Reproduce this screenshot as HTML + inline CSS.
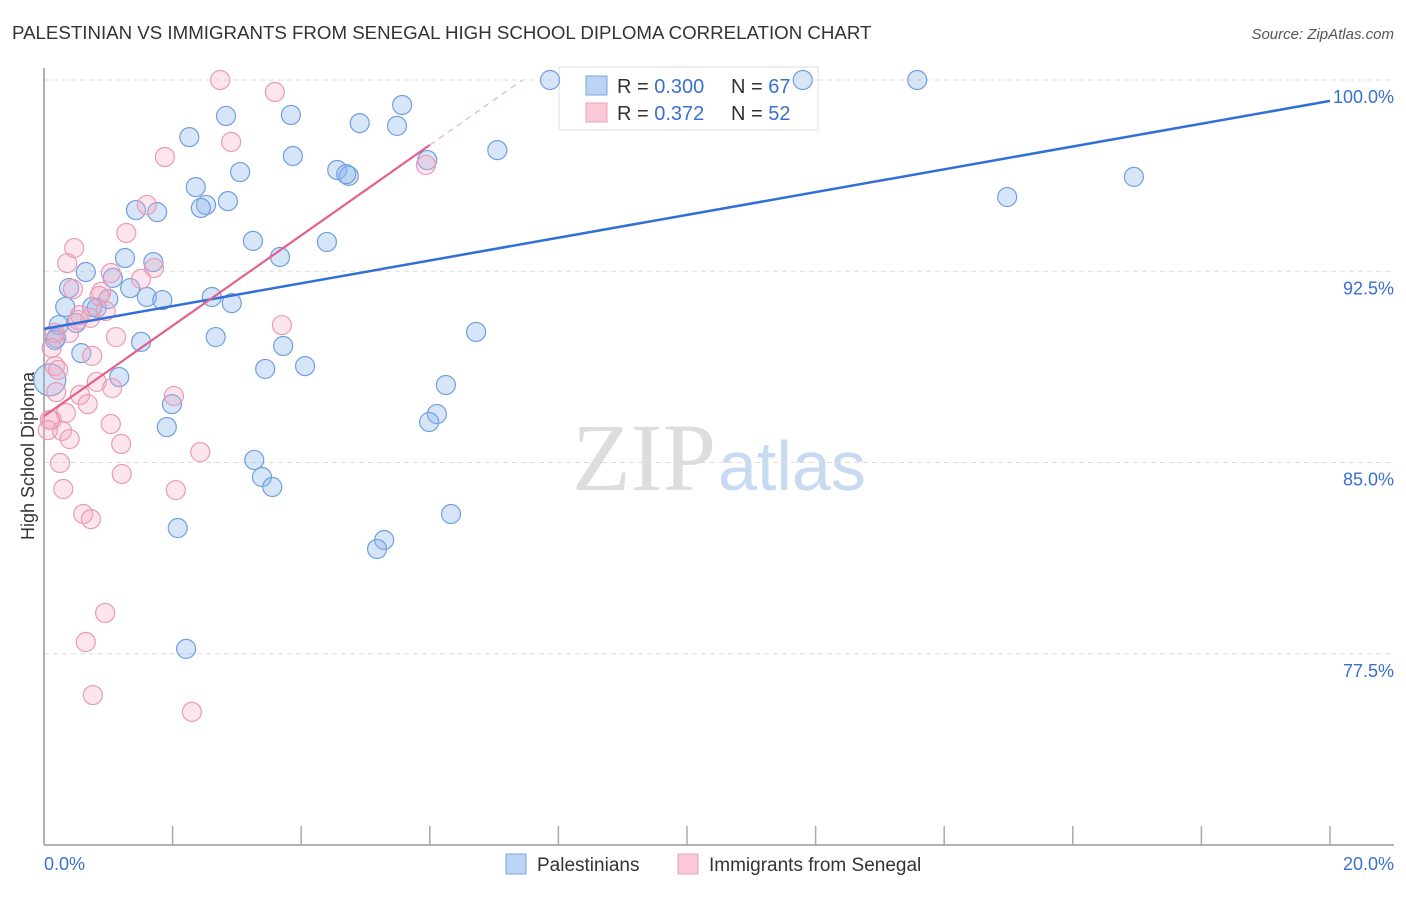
<!DOCTYPE html>
<html><head><meta charset="utf-8"><style>
body{margin:0;background:#fff;font-family:"Liberation Sans",sans-serif;}
svg text{font-family:"Liberation Sans",sans-serif;}
</style></head><body>
<svg id="chart" width="1406" height="892" viewBox="0 0 1406 892">
<text x="12" y="39" font-size="18.7" fill="#333">PALESTINIAN VS IMMIGRANTS FROM SENEGAL HIGH SCHOOL DIPLOMA CORRELATION CHART</text>
<text x="1394" y="39" font-size="15" fill="#555" font-style="italic" text-anchor="end">Source: ZipAtlas.com</text>
<text x="716" y="490" font-size="96" fill="#ddd" text-anchor="end" style="font-family:'Liberation Serif',serif">ZIP</text>
<text x="718" y="490" font-size="70" fill="#c8daf2">atlas</text>
<g id="grid"></g>
<line x1="44" y1="68" x2="44" y2="845" stroke="#999" stroke-width="1.5"/>
<line x1="44" y1="845" x2="1394" y2="845" stroke="#999" stroke-width="1.5"/>
<text transform="translate(34,456) rotate(-90)" font-size="18" fill="#333" text-anchor="middle">High School Diploma</text>
<text x="44" y="870" font-size="18" fill="#3a6fd0">0.0%</text>
<text x="1394" y="870" font-size="18" fill="#3a6fd0" text-anchor="end">20.0%</text>
<g>
<rect x="559" y="67" width="259" height="63" fill="#fff" stroke="#ddd"/>
<rect x="586" y="76" width="21" height="19" fill="#bcd4f4" stroke="#7aa4e0"/>
<rect x="586" y="103" width="21" height="19" fill="#fac8d6" stroke="#eda0b8"/>
<text x="617" y="93" font-size="20" fill="#333">R = <tspan fill="#3a6fd0">0.300</tspan></text>
<text x="731" y="93" font-size="20" fill="#333">N = <tspan fill="#3a6fd0">67</tspan></text>
<text x="617" y="120" font-size="20" fill="#333">R =  <tspan fill="#3a6fd0">0.372</tspan></text>
<text x="731" y="120" font-size="20" fill="#333">N = <tspan fill="#3a6fd0">52</tspan></text>
</g>
<g id="pts"></g>
<g id="lines"></g>
<g>
<rect x="506" y="854" width="20" height="20" fill="#bcd4f4" stroke="#7aa4e0"/>
<text x="537" y="871" font-size="19" fill="#333">Palestinians</text>
<rect x="678" y="854" width="20" height="20" fill="#fac8d6" stroke="#eda0b8"/>
<text x="709" y="871" font-size="19" fill="#333">Immigrants from Senegal</text>
</g>
</svg>
<script>
const yTicks=[100,92.5,85,77.5];
const yTickLabels=["100.0%","92.5%","85.0%","77.5%"];
const xTicks=[2,4,6,8,10,12,14,16,18,20];
const blueX=[7.87,11.80,13.58,2.83,3.84,5.57,2.26,4.91,5.49,3.87,7.05,4.56,4.74,4.70,3.05,2.36,2.52,2.44,2.86,1.43,1.76,5.96,14.98,16.95,3.25,4.40,1.26,1.70,3.67,0.65,1.07,1.34,0.39,1.60,1.84,2.61,2.92,0.33,0.75,0.82,1.00,0.23,0.50,0.19,2.67,1.51,0.58,6.72,3.72,4.06,3.44,1.17,6.25,1.99,1.91,6.11,5.99,3.27,3.39,3.55,6.33,2.08,5.29,5.18,2.21,0.09,0.17];
const blueY=[100,100,100,98.59,98.63,99.02,97.76,98.31,98.20,97.02,97.25,96.47,96.24,96.31,96.39,95.80,95.10,94.98,95.25,94.90,94.82,96.86,95.41,96.20,93.69,93.65,93.02,92.86,93.06,92.47,92.24,91.84,91.84,91.49,91.37,91.49,91.25,91.10,91.10,91.06,91.41,90.39,90.47,89.88,89.92,89.73,89.29,90.12,89.57,88.78,88.67,88.35,88.04,87.29,86.39,86.90,86.59,85.10,84.43,84.04,82.98,82.43,81.96,81.61,77.69,88.24,89.80];
const pinkX=[2.74,3.59,2.91,1.88,5.94,1.60,1.28,0.47,0.36,1.71,1.04,1.51,0.45,0.89,0.86,0.56,0.72,0.96,0.39,0.53,0.17,3.70,1.12,0.12,0.75,0.17,0.82,0.56,1.06,2.02,0.68,0.19,0.34,0.12,1.04,0.28,0.40,1.20,2.43,0.25,1.21,0.30,2.05,0.61,0.73,0.95,0.65,0.76,2.30,0.09,0.22,0.06];
const pinkY=[100,99.53,97.57,96.98,96.67,95.10,94.00,93.41,92.82,92.63,92.43,92.20,91.80,91.69,91.53,90.78,90.67,90.94,90.08,90.59,90.08,90.39,89.92,89.49,89.18,88.78,88.16,87.65,87.92,87.61,87.29,87.76,86.94,86.67,86.51,86.24,85.92,85.73,85.41,84.98,84.55,83.96,83.92,82.98,82.78,79.10,77.96,75.88,75.22,86.67,88.63,86.27];
const blueTrend=[90.24,99.18];
const pinkTrend=[86.82,97.45];
const NS="http://www.w3.org/2000/svg";
const xs=v=>44+v*64.3;
const ys=v=>80+(100-v)*25.5;
function mk(t,a,p){const e=document.createElementNS(NS,t);for(const k in a)e.setAttribute(k,a[k]);p.appendChild(e);return e;}
const grid=document.getElementById('grid');
yTicks.forEach((t,i)=>{
 const l=mk('line',{x1:44,x2:1394,y1:ys(t),y2:ys(t),stroke:'#ddd','stroke-dasharray':'5,4'},grid);
 
 
 const tx=mk('text',{x:1394,y:ys(t)+23,'font-size':18,fill:'#3a6fd0','text-anchor':'end'},grid);
 tx.textContent=yTickLabels[i];
 
 
});
xTicks.forEach(t=>{
 const l=mk('line',{x1:xs(t),x2:xs(t),y1:826,y2:845,stroke:'#aaa','stroke-width':1.5},grid);
 
 
});
const pts=document.getElementById('pts');
blueX.forEach((x,i)=>{
 const r=(i==65)?16:9.5;
 const c=mk('circle',{cx:xs(x),cy:ys(blueY[i]),r:r,fill:'rgba(140,180,235,0.35)',stroke:'#6f9fe0','stroke-width':1.2},pts);
 
 
});
pinkX.forEach((x,i)=>{
 const c=mk('circle',{cx:xs(x),cy:ys(pinkY[i]),r:9.5,fill:'rgba(245,170,195,0.3)',stroke:'#eb9ab5','stroke-width':1.2},pts);
 
 
});
const lines=document.getElementById('lines');
const bl=mk('line',{x1:xs(0),y1:ys(blueTrend[0]),x2:xs(20),y2:ys(blueTrend[1]),stroke:'#2f6fd6','stroke-width':2.5},lines);


const pl=mk('line',{x1:xs(0),y1:ys(pinkTrend[0]),x2:xs(6),y2:ys(pinkTrend[1]),stroke:'#e4608a','stroke-width':2.2},lines);


const slope=(pinkTrend[1]-pinkTrend[0])/6;
const xe=(100-pinkTrend[0])/slope;
const pd=mk('line',{x1:xs(6),y1:ys(pinkTrend[1]),x2:xs(xe),y2:ys(100),stroke:'#eaa0b8','stroke-width':1,'stroke-dasharray':'6,5'},lines);


</script>
</body></html>
